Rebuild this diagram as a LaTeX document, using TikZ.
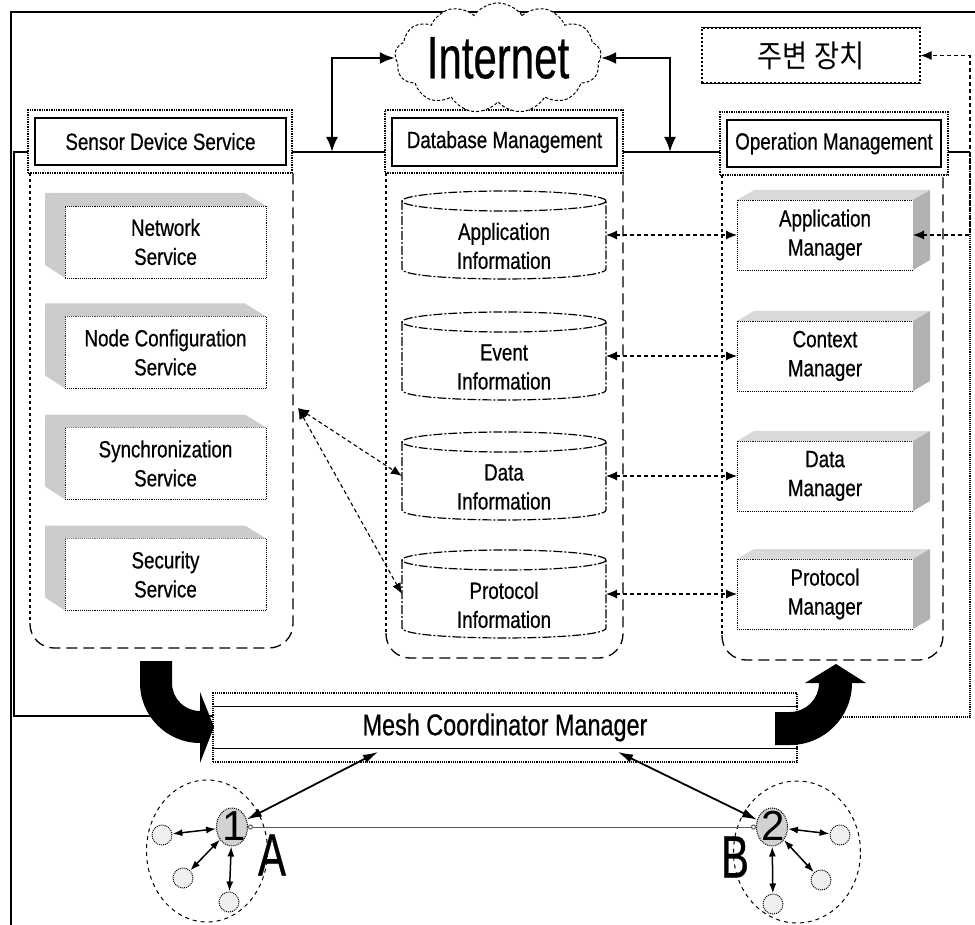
\documentclass[tikz,border=0pt]{standalone}
\usepackage{fontspec}
\setmainfont{Liberation Sans}
\newfontfamily\cnd[FakeStretch=0.8,FakeBold=0.6]{Liberation Sans}
\newfontfamily\cndmesh[FakeStretch=0.78,FakeBold=0.6]{Liberation Sans}
\newfontfamily\cndbig[FakeStretch=0.7,FakeBold=0.4]{Liberation Sans}
\newfontfamily\krfont[FakeStretch=0.88]{Noto Sans CJK KR}
\usetikzlibrary{shapes.symbols,shapes.geometric,arrows.meta,calc}

\newcommand\lbl{\cnd\fontsize{23.5}{29}\selectfont}

\tikzset{
  frameline/.style={line width=1.4pt},
  busline/.style={line width=1.1pt},
  busdots/.style={line width=1.1pt, densely dotted},
  hdrout/.style={draw, densely dotted, line width=1.4pt, fill=white, inner sep=0pt, outer sep=0pt},
  hdrin/.style={draw, line width=1.5pt, inner sep=0pt, outer sep=0pt, font=\lbl},
  colside/.style={line width=1.1pt, dash pattern=on 3pt off 3pt},
  colrim/.style={line width=1.3pt, dash pattern=on 11pt off 6pt, rounded corners=24pt},
  svcface/.style={draw, densely dotted, line width=0.9pt, fill=white, minimum width=201pt,
    minimum height=72pt, inner sep=0pt, outer sep=0pt, align=center, font=\lbl},
  mgrface/.style={svcface, minimum width=176pt, minimum height=70pt},
  svcshade/.style={fill=gray!40},
  mgrtop/.style={fill=gray!30},
  mgrside/.style={fill=gray!60},
  cylline/.style={line width=1.2pt, dash pattern=on 9pt off 2pt on 2pt off 2pt},
  netarr/.style={line width=2.4pt, {Latex[length=15pt,width=12pt]}-{Latex[length=15pt,width=12pt]}},
  link/.style={line width=1.1pt, dash pattern=on 4pt off 3pt,
    {Latex[length=11pt,width=9pt]}-{Latex[length=11pt,width=9pt]}},
  meshlink/.style={line width=1.8pt, {Latex[length=15pt,width=9pt]}-{Latex[length=15pt,width=9pt]}},
  leaflink/.style={line width=1.5pt, {Latex[length=10pt,width=7pt]}-{Latex[length=10pt,width=7pt]}},
  cluster/.style={ellipse, draw, dash pattern=on 4pt off 4pt, line width=1pt,
    minimum width=121pt, minimum height=142pt, inner sep=0pt},
  hub/.style={ellipse, draw, densely dotted, line width=1pt, fill=gray!35,
    minimum width=31pt, minimum height=38pt, inner sep=0pt},
  leaf/.style={circle, draw, densely dotted, line width=1pt, fill=gray!12,
    minimum size=20pt, inner sep=0pt},
  bigarrow/.style={fill=black},
}

% service box of the sensor column, depth towards the upper left
\newcommand\svcbox[4]{%
  \node[svcface] (#1) at (#2,#3) {#4};
  \fill[svcshade] (#1.north west) -- ++(-20,-13) -- ($(#1.north east)+(-21,-13)$) -- (#1.north east) -- cycle;
  \fill[svcshade] (#1.north west) -- ++(-20,-13) -- ($(#1.south west)+(-20,-13)$) -- (#1.south west) -- cycle;
}
% manager box of the operation column, depth towards the upper right
\newcommand\mgrbox[4]{%
  \node[mgrface] (#1) at (#2,#3) {#4};
  \fill[mgrtop] (#1.north west) -- ++(17,-10) -- ($(#1.north east)+(17,-10)$) -- (#1.north east) -- cycle;
  \fill[mgrside] (#1.north east) -- ++(17,-10) -- ($(#1.south east)+(17,-10)$) -- (#1.south east) -- cycle;
}
% database cylinder
\newcommand\dbcyl[4]{%
  \node[inner sep=0pt, outer sep=0pt, minimum width=204pt, minimum height=88pt] (#1) at (#2,#3) {};
  \draw[cylline] (#2,#3-34) ellipse [x radius=102, y radius=10];
  \draw[cylline] (#2-102,#3-34) -- (#2-102,#3+34)
     .. controls (#2-102,#3+47.3) and (#2+102,#3+47.3) .. (#2+102,#3+34) -- (#2+102,#3-34);
  \node[font=\lbl, align=center] (#1t) at (#2,#3+11) {#4};
}

\begin{document}
\begin{tikzpicture}[x=1pt, y=-1pt]
\useasboundingbox (0,0) rectangle (975,925);

% outer frame
\draw[frameline] (975,12) -- (11,12) -- (11,925);

% system bus frame
\draw[busline] (970,152) -- (14,152) -- (14,716) -- (213,716);
\draw[busdots] (970,152) -- (970,717) -- (797,717);

% headers
\node[hdrout, minimum width=264pt, minimum height=63pt] (sdsH) at (160,141.5) {};
\node[hdrin, minimum width=251pt, minimum height=47pt] (sds) at (160.5,141.5) {Sensor Device Service};
\node[hdrout, minimum width=238pt, minimum height=63pt] (dbmH) at (504,141.5) {};
\node[hdrin, minimum width=225pt, minimum height=48pt] (dbm) at (504.5,142) {Database Management};
\node[hdrout, minimum width=228pt, minimum height=63pt] (opmH) at (834,143.5) {};
\node[hdrin, minimum width=214pt, minimum height=47pt] (opm) at (834,143.5) {Operation Management};

% column bodies
\draw[colside] (30,173) -- (30,623);
\draw[colrim] (30,623) -- (30,648) -- (293,648) -- (293,173);
\draw[colside] (386,173) -- (386,633);
\draw[colrim] (386,633) -- (386,658) -- (623,658) -- (623,173);
\draw[colside] (722,175) -- (722,635);
\draw[colrim] (722,635) -- (722,660) -- (943,660) -- (943,175);

% internet and peripherals
\node[cloud, draw, dash pattern=on 3pt off 2pt, line width=1pt, cloud puffs=13, cloud puff arc=110,
  aspect=2.3, minimum width=200pt, minimum height=86pt, inner sep=0pt, fill=white] (net) at (498,58)
  {\cndbig\fontsize{60}{60}\selectfont Internet};
\node[draw, dash pattern=on 2pt off 2pt, line width=1.2pt, minimum width=218pt, minimum height=55pt,
  inner sep=0pt] (periph) at (811,55.5) {\krfont\fontsize{31}{31}\selectfont 주변 장치};
\draw[line width=1.4pt] (periph.north west) -- (periph.north east)
  (periph.south west) -- (periph.south east);

\coordinate (busA) at (332,152);
\coordinate (busB) at (670,152);
\draw[netarr] (busA) |- (net.west);
\draw[netarr] (net.east) -| (busB);

% sensor device services
\svcbox{netsvc}{165.5}{242}{Network\\Service}
\svcbox{cfgsvc}{165.5}{352.5}{Node Configuration\\Service}
\svcbox{syncsvc}{165.5}{463.5}{Synchronization\\Service}
\svcbox{secsvc}{165.5}{574.5}{Security\\Service}

% databases
\dbcyl{appinfo}{504}{235}{Application\\Information}
\dbcyl{evinfo}{504}{356}{Event\\Information}
\dbcyl{datainfo}{504}{476}{Data\\Information}
\dbcyl{protoinfo}{504}{594}{Protocol\\Information}

% managers
\mgrbox{appmgr}{825}{235}{Application\\Manager}
\mgrbox{ctxmgr}{825}{356}{Context\\Manager}
\mgrbox{datamgr}{825}{476}{Data\\Manager}
\mgrbox{protomgr}{825}{594}{Protocol\\Manager}

% database <-> manager links
\draw[link] (appinfo.east) -- (appmgr.west);
\draw[link] (evinfo.east) -- (ctxmgr.west);
\draw[link] (datainfo.east) -- (datamgr.west);
\draw[link] (protoinfo.east) -- (protomgr.west);
\draw[link] (appmgr.east) -- ++(57,0) |- (periph.east);

% sensor services <-> databases
\coordinate (sdsport) at (298,408);
\draw[link] (sdsport) -- (datainfo.west);
\draw[link] (sdsport) -- (protoinfo.west);

% mesh coordinator
\node[draw, densely dotted, line width=1.2pt, minimum width=584pt, minimum height=69pt, fill=white,
  inner sep=0pt, font=\cndmesh\fontsize{30}{30}\selectfont] (mesh) at (505,727.5) {Mesh Coordinator Manager};
\draw[line width=1.4pt] ($(mesh.north west)+(0,14)$) -- ($(mesh.north east)+(0,14)$);
\draw[line width=1.4pt] ($(mesh.south west)+(0,-14)$) -- ($(mesh.south east)+(0,-14)$);

% turning arrows into and out of the coordinator
\fill[bigarrow] (140,661) -- (140,683)
  .. controls (140,716.1) and (166.9,743) .. (200,743)
  -- (200,763) -- (214,727) -- (200,692) -- (200,711)
  .. controls (184.5,711) and (172,698.5) .. (172,683) -- (172,661) -- cycle;
\fill[bigarrow] (775,712) -- (790,712)
  .. controls (806,712) and (819,699) .. (819,683)
  -- (805,683) -- (836,664) -- (866,683) -- (852,683)
  .. controls (852,717.2) and (824.2,745) .. (790,745) -- (775,745) -- cycle;

% mesh clusters
\node[cluster] (clA) at (207,851) {};
\node[cluster, minimum width=127pt] (clB) at (797,852) {};

\node[hub] (n1) at (232,827) {};
\node[font=\fontsize{42}{42}\selectfont] (n1lbl) at (234,826) {1};
\node[hub] (n2) at (772,827) {};
\node[font=\fontsize{42}{42}\selectfont] (n2lbl) at (773,826) {2};

\node[leaf] (a1) at (162,835) {};
\node[leaf] (a2) at (183,878) {};
\node[leaf] (a3) at (229,902) {};
\node[leaf] (b1) at (840,835) {};
\node[leaf] (b2) at (821,880) {};
\node[leaf] (b3) at (773,904) {};

\node[font=\cndbig\fontsize{60}{60}\selectfont] (lblA) at (272,855) {A};
\node[font=\cndbig\fontsize{60}{60}\selectfont] (lblB) at (735,857) {B};

\draw[leaflink] (n1) -- (a1);
\draw[leaflink] (n1) -- (a2);
\draw[leaflink] (n1) -- (a3);
\draw[leaflink] (n2) -- (b1);
\draw[leaflink] (n2) -- (b2);
\draw[leaflink] (n2) -- (b3);

\draw[line width=1pt, gray!70!black, {Circle[open,length=5pt,width=5pt]}-{Circle[open,length=5pt,width=5pt]}]
  (n1) -- (n2);

\coordinate (m1) at (378,752);
\coordinate (m2) at (618,752);
\draw[meshlink] (m1) -- (n1);
\draw[meshlink] (m2) -- (n2);
\end{tikzpicture}
\end{document}
